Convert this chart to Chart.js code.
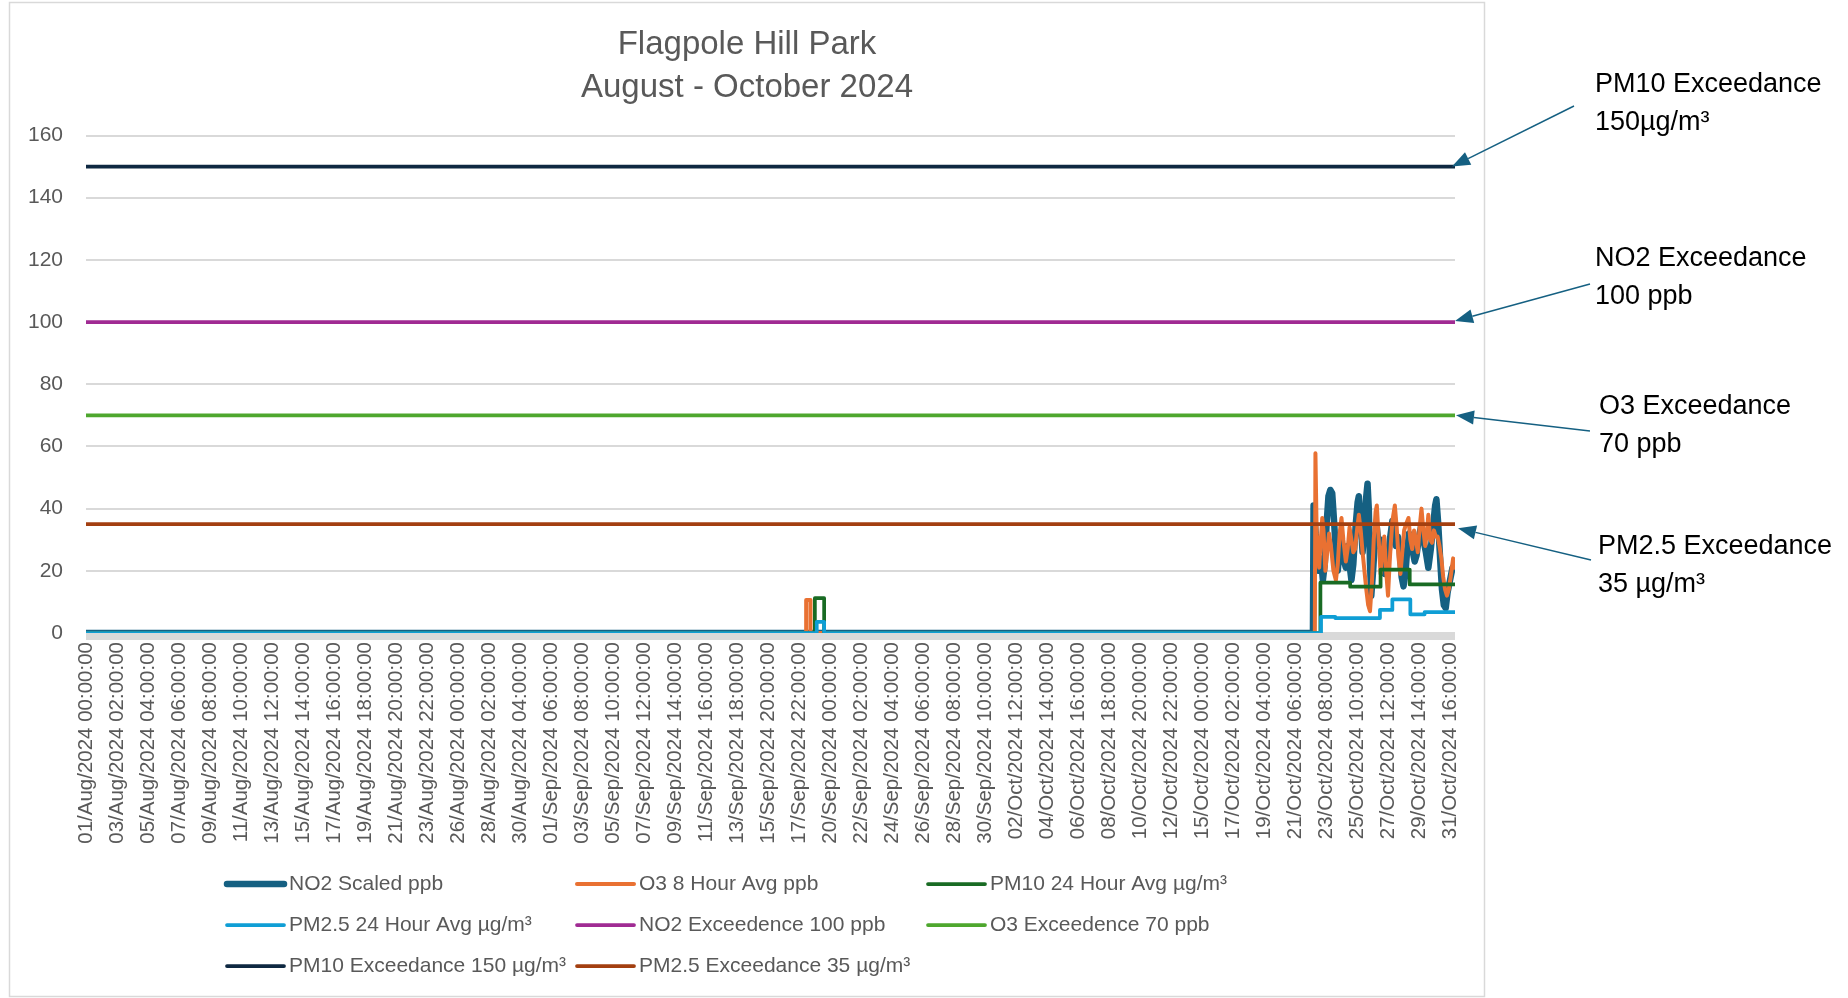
<!DOCTYPE html>
<html>
<head>
<meta charset="utf-8">
<title>Flagpole Hill Park</title>
<script src="https://cdn.jsdelivr.net/npm/chart.js@4.4.1/dist/chart.umd.min.js"></script>
<style>
  html, body { margin: 0; padding: 0; background: #fff; }
  #wrap { position: relative; width: 1848px; height: 998px; }
  canvas { display: block; }
</style>
</head>
<body>
<div id="wrap"><canvas id="airChart" width="1848" height="998" style="width:1848px;height:998px"></canvas></div>
<script>
// hourly readings, 01/Aug/2024 00:00 = hour 0 ... 31/Oct/2024 23:00 = hour 2207
const tickLabels = [
  "01/Aug/2024 00:00:00", "03/Aug/2024 02:00:00", "05/Aug/2024 04:00:00", "07/Aug/2024 06:00:00",
  "09/Aug/2024 08:00:00", "11/Aug/2024 10:00:00", "13/Aug/2024 12:00:00", "15/Aug/2024 14:00:00",
  "17/Aug/2024 16:00:00", "19/Aug/2024 18:00:00", "21/Aug/2024 20:00:00", "23/Aug/2024 22:00:00",
  "26/Aug/2024 00:00:00", "28/Aug/2024 02:00:00", "30/Aug/2024 04:00:00", "01/Sep/2024 06:00:00",
  "03/Sep/2024 08:00:00", "05/Sep/2024 10:00:00", "07/Sep/2024 12:00:00", "09/Sep/2024 14:00:00",
  "11/Sep/2024 16:00:00", "13/Sep/2024 18:00:00", "15/Sep/2024 20:00:00", "17/Sep/2024 22:00:00",
  "20/Sep/2024 00:00:00", "22/Sep/2024 02:00:00", "24/Sep/2024 04:00:00", "26/Sep/2024 06:00:00",
  "28/Sep/2024 08:00:00", "30/Sep/2024 10:00:00", "02/Oct/2024 12:00:00", "04/Oct/2024 14:00:00",
  "06/Oct/2024 16:00:00", "08/Oct/2024 18:00:00", "10/Oct/2024 20:00:00", "12/Oct/2024 22:00:00",
  "15/Oct/2024 00:00:00", "17/Oct/2024 02:00:00", "19/Oct/2024 04:00:00", "21/Oct/2024 06:00:00",
  "23/Oct/2024 08:00:00", "25/Oct/2024 10:00:00", "27/Oct/2024 12:00:00", "29/Oct/2024 14:00:00",
  "31/Oct/2024 16:00:00"
];
const tickStep = 50;   // one label every 50 readings
const lastHour = 2207;

// [hour, value] breakpoints
const no2Scaled = [
  [0, 0], [1978, 0], [1979, 41], [1982, 33], [1985, 25], [1988, 20], [1991, 24], [1994, 17],
  [1997, 22], [2000, 35], [2003, 44], [2006, 46], [2009, 45], [2012, 36], [2015, 26], [2018, 20],
  [2021, 27], [2024, 30], [2027, 24], [2031, 21], [2034, 28], [2037, 22], [2040, 17], [2043, 22],
  [2047, 35], [2050, 42], [2052, 44], [2055, 36], [2058, 26], [2061, 33], [2064, 44], [2066, 48],
  [2068, 40], [2070, 22], [2072, 12], [2075, 20], [2078, 30], [2081, 34], [2084, 28], [2087, 30],
  [2090, 24], [2094, 19], [2098, 22], [2102, 30], [2106, 36], [2109, 35], [2112, 28], [2115, 31],
  [2118, 26], [2121, 18], [2124, 15], [2127, 19], [2130, 27], [2133, 32], [2136, 30], [2139, 26],
  [2142, 23], [2145, 25], [2149, 31], [2153, 35], [2156, 30], [2160, 26], [2164, 21], [2168, 27],
  [2172, 35], [2175, 41], [2177, 43], [2180, 35], [2183, 24], [2186, 14], [2189, 9], [2192, 8],
  [2195, 13], [2199, 17], [2203, 21], [2207, 22]
];
const o3Avg8h = [
  [0, 0], [1161, 0], [1161, 10.6], [1168, 10.6], [1168, 0], [1981, 0], [1982, 57.8], [1984, 32],
  [1986, 28], [1988, 21], [1990, 28], [1993, 37], [1995, 33], [1998, 20], [2001, 26], [2004, 32],
  [2007, 28], [2011, 20], [2015, 17], [2018, 22], [2021, 32], [2024, 37], [2027, 30], [2031, 23],
  [2034, 27], [2037, 34], [2040, 30], [2043, 26], [2046, 27], [2049, 33], [2052, 38], [2055, 33],
  [2058, 26], [2061, 20], [2064, 14], [2067, 9], [2070, 7], [2073, 16], [2076, 30], [2079, 39],
  [2081, 41], [2084, 30], [2087, 19], [2090, 26], [2093, 31], [2096, 20], [2099, 12], [2102, 24],
  [2106, 36], [2110, 41], [2113, 34], [2116, 24], [2119, 19], [2122, 26], [2125, 33], [2128, 35],
  [2132, 37], [2135, 30], [2138, 27], [2141, 33], [2144, 30], [2147, 26], [2150, 34], [2153, 40],
  [2156, 33], [2159, 28], [2162, 33], [2164, 38], [2167, 30], [2170, 29], [2173, 33], [2176, 31],
  [2179, 31], [2182, 28], [2185, 24], [2188, 18], [2191, 14], [2194, 12], [2197, 14], [2200, 18],
  [2204, 24], [2207, 21]
];
const pm10Avg24h = [
  [0, 0], [1175, 0], [1175, 11.2], [1190, 11.2], [1190, 0], [1990, 0], [1990, 16.2], [2038, 16.2],
  [2038, 14.9], [2087, 14.9], [2087, 20.4], [2134, 20.4], [2134, 15.6], [2207, 15.6]
];
const pm25Avg24h = [
  [0, 0], [1178, 0], [1178, 3.6], [1190, 3.6], [1190, 0], [1991, 0], [1991, 5.2], [2014, 5.2],
  [2014, 4.8], [2086, 4.8], [2086, 7.4], [2106, 7.4], [2106, 10.8], [2135, 10.8], [2135, 6.0],
  [2158, 6.0], [2158, 6.7], [2207, 6.7]
];
const no2Limit = 100;
const o3Limit = 70;
const pm10Limit = 150;
const pm25Limit = 35;

const flat = (v) => [[0, v], [lastHour, v]];

const font = "'Liberation Sans', Arial, sans-serif";
const grey = '#595959';

const notes = [
  { lines: ['PM10 Exceedance', '150\u00b5g/m\u00b3'], x: 1595, y: 85, tail: [1574, 106], tipX: 1452, dy: 0, value: pm10Limit },
  { lines: ['NO2 Exceedance', '100 ppb'], x: 1595, y: 259, tail: [1590, 284], tipX: 1455, dy: -1, value: no2Limit },
  { lines: ['O3 Exceedance', '70 ppb'], x: 1599, y: 407, tail: [1590, 431], tipX: 1456, dy: 0, value: o3Limit },
  { lines: ['PM2.5 Exceedance', '35 \u00b5g/m\u00b3'], x: 1598, y: 547, tail: [1591, 560], tipX: 1458, dy: 4, value: pm25Limit }
];

function arrow(c, x0, y0, x1, y1) {
  const ang = Math.atan2(y1 - y0, x1 - x0);
  const len = 18, half = 7;
  const bx = x1 - len * Math.cos(ang), by = y1 - len * Math.sin(ang);
  c.beginPath();
  c.moveTo(x0, y0);
  c.lineTo(bx, by);
  c.stroke();
  c.beginPath();
  c.moveTo(x1, y1);
  c.lineTo(bx + half * Math.sin(ang), by - half * Math.cos(ang));
  c.lineTo(bx - half * Math.sin(ang), by + half * Math.cos(ang));
  c.closePath();
  c.fill();
}

const decor = {
  id: 'decor',
  beforeDraw(chart) {
    const c = chart.ctx;
    c.save();
    c.fillStyle = '#fff';
    c.fillRect(0, 0, chart.width, chart.height);
    c.strokeStyle = '#d9d9d9';
    c.lineWidth = 1.5;
    c.strokeRect(9.5, 2.5, 1475, 994);
    c.restore();
  },
  beforeDatasetsDraw(chart) {
    const { ctx: c, chartArea: a } = chart;
    c.save();
    c.fillStyle = '#d9d9d9';
    c.fillRect(a.left, a.bottom - 1, a.right - a.left, 8);
    c.restore();
  },
  afterDraw(chart) {
    const c = chart.ctx;
    const y = chart.scales.y;
    c.save();

    // title
    c.fillStyle = grey;
    c.textAlign = 'center';
    c.textBaseline = 'middle';
    c.font = '33px ' + font;
    c.fillText('Flagpole Hill Park', 747, 45);
    c.fillText('August - October 2024', 747, 88);

    // legend, 3 columns
    const cols = [227, 577, 928];
    const rows = [884, 925, 966];
    c.textAlign = 'left';
    c.font = '21px ' + font;
    chart.data.datasets.forEach((ds, i) => {
      const lx = cols[i % 3], ly = rows[Math.floor(i / 3)];
      c.strokeStyle = ds.borderColor;
      c.lineWidth = ds.borderWidth;
      c.lineCap = 'round';
      c.beginPath();
      c.moveTo(lx, ly);
      c.lineTo(lx + 57, ly);
      c.stroke();
      c.fillStyle = grey;
      c.fillText(ds.label, lx + 62, ly);
    });

    // exceedance notes
    c.font = '27px ' + font;
    c.fillStyle = '#000';
    notes.forEach(n => {
      n.lines.forEach((t, k) => c.fillText(t, n.x, n.y + k * 38));
    });
    c.strokeStyle = '#156082';
    c.fillStyle = '#156082';
    c.lineWidth = 1.5;
    c.lineCap = 'butt';
    notes.forEach(n => {
      arrow(c, n.tail[0], n.tail[1], n.tipX, y.getPixelForValue(n.value) + n.dy);
    });
    c.restore();
  }
};

function series(label, data, color, width, order) {
  return {
    label, data, order,
    borderColor: color,
    backgroundColor: color,
    borderWidth: width,
    borderJoinStyle: 'round',
    borderCapStyle: 'round',
    pointRadius: 0,
    tension: 0
  };
}

new Chart(document.getElementById('airChart'), {
  type: 'line',
  data: {
    datasets: [
      series('NO2 Scaled ppb', no2Scaled, '#156082', 6.5, 8),
      series('O3 8 Hour Avg ppb', o3Avg8h, '#E97132', 4, 7),
      series('PM10 24 Hour Avg \u00b5g/m\u00b3', pm10Avg24h, '#196B24', 3.75, 6),
      series('PM2.5 24 Hour Avg \u00b5g/m\u00b3', pm25Avg24h, '#0F9ED5', 3.75, 5),
      series('NO2 Exceedence 100 ppb', flat(no2Limit), '#A02B93', 3.75, 4),
      series('O3 Exceedence 70 ppb', flat(o3Limit), '#4EA72E', 3.75, 3),
      series('PM10 Exceedance 150 \u00b5g/m\u00b3', flat(pm10Limit), '#0E2841', 3.75, 2),
      series('PM2.5 Exceedance 35 \u00b5g/m\u00b3', flat(pm25Limit), '#A33F10', 3.75, 1)
    ]
  },
  options: {
    responsive: false,
    animation: false,
    events: [],
    layout: { padding: { left: 9, top: 135.5, right: 393, bottom: 140 } },
    plugins: {
      legend: { display: false },
      title: { display: false },
      tooltip: { enabled: false }
    },
    scales: {
      x: {
        type: 'linear',
        min: 0,
        max: lastHour,
        grid: { display: false, drawTicks: false },
        border: { display: false },
        afterBuildTicks: (s) => { s.ticks = tickLabels.map((t, i) => ({ value: i * tickStep })); },
        afterFit: (s) => { s.height = 225; },
        ticks: {
          autoSkip: false,
          minRotation: 90,
          maxRotation: 90,
          padding: 9,
          color: grey,
          font: { family: font, size: 20.5 },
          callback: (v) => tickLabels[Math.round(v / tickStep)] || ''
        }
      },
      y: {
        min: 0,
        max: 160,
        grid: { color: '#d9d9d9', lineWidth: 2, drawTicks: false },
        border: { display: false },
        afterFit: (s) => { s.width = 77; },
        ticks: {
          stepSize: 20,
          padding: 23,
          color: grey,
          font: { family: font, size: 21 }
        }
      }
    }
  },
  plugins: [decor]
});
</script>
</body>
</html>
